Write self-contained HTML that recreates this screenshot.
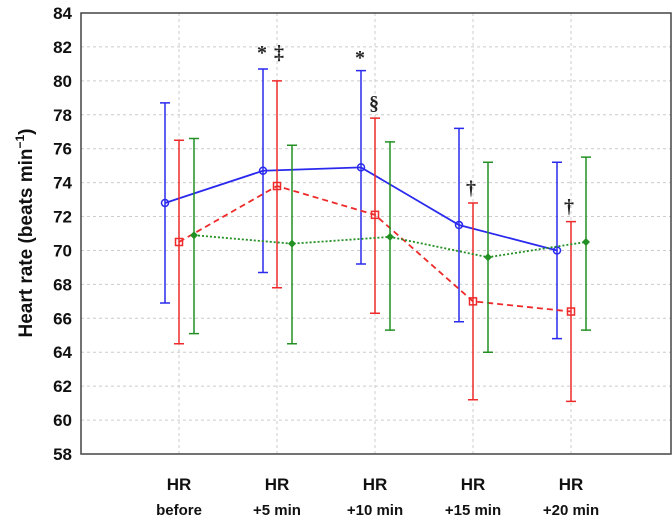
<!DOCTYPE html>
<html><head><meta charset="utf-8"><style>
body{margin:0;background:#fff;}
svg{display:block;font-family:"Liberation Sans",sans-serif;}
</style></head><body>
<svg id="chart" width="672" height="522">
<g id="grid"></g>
<g id="yaxis"></g>
<g id="xaxis"></g>
<g id="series"></g>
<g id="annots"></g>
<rect x="81" y="13" width="590" height="441" fill="none" stroke="#444" stroke-width="1.5"/>
<text transform="translate(32,233) rotate(-90)" text-anchor="middle" font-size="19" font-weight="bold" fill="#111">Heart rate (beats min<tspan font-size="12" dy="-8">−1</tspan><tspan dy="8">)</tspan></text>
</svg>
<script>
const categories=["before","+5 min","+10 min","+15 min","+20 min"];
const yTicks=[58,60,62,64,66,68,70,72,74,76,78,80,82,84];
const blueMean=[72.8,74.7,74.9,71.5,70.0];
const blueUp=[78.7,80.7,80.6,77.2,75.2];
const blueLo=[66.9,68.7,69.2,65.8,64.8];
const redMean=[70.5,73.8,72.1,67.0,66.4];
const redUp=[76.5,80.0,77.8,72.8,71.7];
const redLo=[64.5,67.8,66.3,61.2,61.1];
const greenMean=[70.9,70.4,70.8,69.6,70.5];
const greenUp=[76.6,76.2,76.4,75.2,75.5];
const greenLo=[65.1,64.5,65.3,64.0,65.3];
const annotations=[{i:1,v:81.3,t:"*",dx:-15},{i:1,v:81.3,t:"‡",dx:2},{i:2,v:81.0,t:"*",dx:-15},{i:2,v:78.3,t:"§",dx:-1},{i:3,v:73.3,t:"†",dx:-2},{i:4,v:72.2,t:"†",dx:-2}];
const NS="http://www.w3.org/2000/svg";
const y=v=>454-(v-58)*(441/26);
const x=i=>179+98*i;
function mk(tag,attrs,parent){const e=document.createElementNS(NS,tag);for(const k in attrs)e.setAttribute(k,attrs[k]);parent.appendChild(e);return e;}
const grid=document.getElementById('grid'),ya=document.getElementById('yaxis'),xa=document.getElementById('xaxis'),sr=document.getElementById('series'),an=document.getElementById('annots');
yTicks.forEach(t=>{
  if(t>58&&t<84){const l=mk('line',{x1:81,x2:671,y1:y(t),y2:y(t),stroke:'#ccc','stroke-dasharray':'3,3'},grid);
  
  }
  const tx=mk('text',{x:72,y:y(t)+6,'text-anchor':'end','font-size':'17','font-weight':'bold',fill:'#111'},ya);
  tx.textContent=t;
  
  
});
categories.forEach((c,i)=>{
  const l=mk('line',{x1:x(i),x2:x(i),y1:13,y2:454,stroke:'#ccc','stroke-dasharray':'3,3'},grid);
  
  
  const t1=mk('text',{x:x(i),y:490,'text-anchor':'middle','font-size':'17','font-weight':'bold',fill:'#111'},xa);
  t1.textContent="HR";
  
  
  const t2=mk('text',{x:x(i),y:515,'text-anchor':'middle','font-size':'15','font-weight':'bold',fill:'#111'},xa);
  t2.textContent=c;
  
  
});
function series(name,mean,up,lo,color,off,dash,marker){
  const g=mk('g',{},sr);
  
  
  mean.forEach((m,i)=>{
    const cx=x(i)+off;
    const e=mk('path',{d:`M${cx},${y(up[i])}V${y(lo[i])}M${cx-5},${y(up[i])}h10M${cx-5},${y(lo[i])}h10`,stroke:color,'stroke-width':1.5,fill:'none'},g);
    
    
  });
  const pts=mean.map((m,i)=>(x(i)+off)+','+y(m)).join(' ');
  const pl=mk('polyline',{points:pts,stroke:color,'stroke-width':1.8,fill:'none','stroke-dasharray':dash},g);
  
  
  mean.forEach((m,i)=>{
    const cx=x(i)+off,cy=y(m);let p;
    if(marker==='circle')p=mk('circle',{cx:cx,cy:cy,r:3.5,fill:'none',stroke:color,'stroke-width':1.5},g);
    else if(marker==='square')p=mk('rect',{x:cx-3.5,y:cy-3.5,width:7,height:7,fill:'none',stroke:color,'stroke-width':1.5},g);
    else p=mk('path',{d:`M${cx},${cy-4}L${cx+4},${cy}L${cx},${cy+4}L${cx-4},${cy}Z`,fill:color},g);
    
    
  });
}
series('blue',blueMean,blueUp,blueLo,'#2a2aee',-14,'none','circle');
series('red',redMean,redUp,redLo,'#ee2a2a',0,'6,4','square');
series('green',greenMean,greenUp,greenLo,'#229022',15,'2,2','diamond');
annotations.forEach(a=>{
  const t=mk('text',{x:x(a.i)+a.dx,y:y(a.v),'text-anchor':'middle','font-size':'20','font-weight':'bold',fill:'#222','font-family':'"Liberation Serif",serif'},an);
  t.textContent=a.t;
  
  
});
</script>
</body></html>
